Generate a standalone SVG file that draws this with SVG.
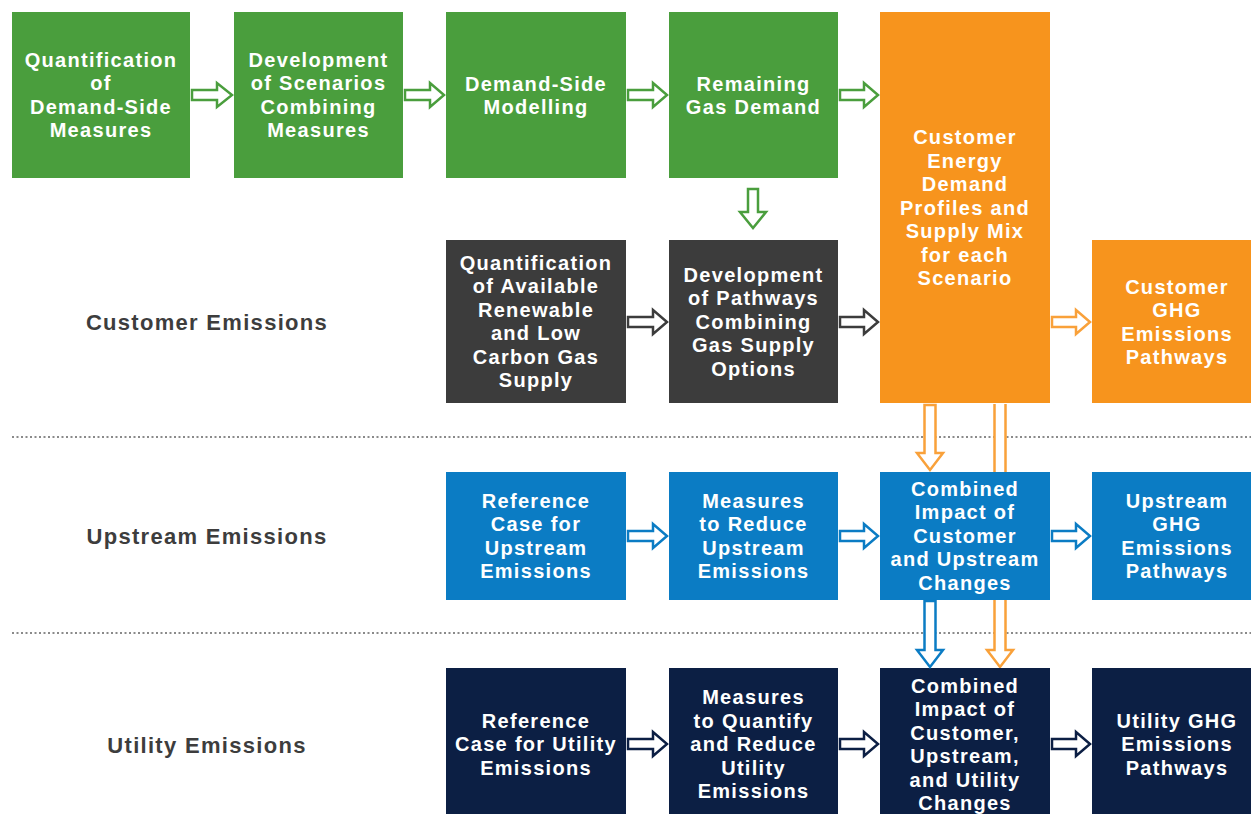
<svg xmlns="http://www.w3.org/2000/svg" width="1251" height="814" viewBox="0 0 1251 814">
<style>
.t{font-family:"Liberation Sans",Arial,sans-serif;font-weight:bold;font-size:20px;letter-spacing:1.3px;fill:#fff;text-anchor:middle}
.side{font-family:"Liberation Sans",Arial,sans-serif;font-weight:bold;font-size:22px;letter-spacing:1.3px;fill:#3d3d3d;text-anchor:middle}
.g{fill:#4a9e3d}.o{fill:#f7941d}.d{fill:#3c3c3c}.b{fill:#0b7cc4}.n{fill:#0c1f44}
.ag{fill:#fff;stroke:#4a9e3d;stroke-width:2.5}
.ao{fill:#fff;stroke:#f9a13a;stroke-width:2.5}
.ad{fill:#fff;stroke:#3c3c3c;stroke-width:2.5}
.ab{fill:#fff;stroke:#0b7cc4;stroke-width:2.5}
.an{fill:#fff;stroke:#0c1f44;stroke-width:2.5}
.dot{stroke:#8a8a8a;stroke-width:2;stroke-dasharray:2 2.5}
</style>
<rect width="1251" height="814" fill="#fff"/>
<g id="separators">
<line class="dot" x1="12" y1="437" x2="1251" y2="437"/>
<line class="dot" x1="12" y1="633" x2="1251" y2="633"/>
</g>
<g id="labels">
<text class="side" x="207" y="330">Customer Emissions</text>
<text class="side" x="207" y="544">Upstream Emissions</text>
<text class="side" x="207" y="753">Utility Emissions</text>
</g>
<g id="connectors-back">
<path class="ao" d="M994.5,404 V650 H987 L1000,667 L1013,650 H1005.5 V404"/>
</g>
<g id="n1"><rect class="g" x="12" y="12" width="178" height="166"/>
<text class="t" x="101"><tspan x="101" y="67">Quantification</tspan><tspan x="101" y="90">of</tspan><tspan x="101" y="114">Demand-Side</tspan><tspan x="101" y="137">Measures</tspan></text></g>
<g id="n2"><rect class="g" x="234" y="12" width="169" height="166"/>
<text class="t"><tspan x="318.5" y="67">Development</tspan><tspan x="318.5" y="90">of Scenarios</tspan><tspan x="318.5" y="114">Combining</tspan><tspan x="318.5" y="137">Measures</tspan></text></g>
<g id="n3"><rect class="g" x="446" y="12" width="180" height="166"/>
<text class="t"><tspan x="536" y="91">Demand-Side</tspan><tspan x="536" y="114">Modelling</tspan></text></g>
<g id="n4"><rect class="g" x="669" y="12" width="169" height="166"/>
<text class="t"><tspan x="753.5" y="91">Remaining</tspan><tspan x="753.5" y="114">Gas Demand</tspan></text></g>
<g id="n5"><rect class="o" x="880" y="12" width="170" height="391"/>
<text class="t"><tspan x="965" y="144">Customer</tspan><tspan x="965" y="168">Energy</tspan><tspan x="965" y="191">Demand</tspan><tspan x="965" y="215">Profiles and</tspan><tspan x="965" y="238">Supply Mix</tspan><tspan x="965" y="262">for each</tspan><tspan x="965" y="285">Scenario</tspan></text></g>
<g id="n6"><rect class="d" x="446" y="240" width="180" height="163"/>
<text class="t"><tspan x="536" y="270">Quantification</tspan><tspan x="536" y="293">of Available</tspan><tspan x="536" y="317">Renewable</tspan><tspan x="536" y="340">and Low</tspan><tspan x="536" y="364">Carbon Gas</tspan><tspan x="536" y="387">Supply</tspan></text></g>
<g id="n7"><rect class="d" x="669" y="240" width="169" height="163"/>
<text class="t"><tspan x="753.5" y="282">Development</tspan><tspan x="753.5" y="305">of Pathways</tspan><tspan x="753.5" y="329">Combining</tspan><tspan x="753.5" y="352">Gas Supply</tspan><tspan x="753.5" y="376">Options</tspan></text></g>
<g id="n8"><rect class="o" x="1092" y="240" width="159" height="163"/>
<text class="t"><tspan x="1177" y="294">Customer</tspan><tspan x="1177" y="317">GHG</tspan><tspan x="1177" y="341">Emissions</tspan><tspan x="1177" y="364">Pathways</tspan></text></g>
<g id="n9"><rect class="b" x="446" y="472" width="180" height="128"/>
<text class="t"><tspan x="536" y="508">Reference</tspan><tspan x="536" y="531">Case for</tspan><tspan x="536" y="555">Upstream</tspan><tspan x="536" y="578">Emissions</tspan></text></g>
<g id="n10"><rect class="b" x="669" y="472" width="169" height="128"/>
<text class="t"><tspan x="753.5" y="508">Measures</tspan><tspan x="753.5" y="531">to Reduce</tspan><tspan x="753.5" y="555">Upstream</tspan><tspan x="753.5" y="578">Emissions</tspan></text></g>
<g id="n11"><rect class="b" x="880" y="472" width="170" height="128"/>
<text class="t"><tspan x="965" y="496">Combined</tspan><tspan x="965" y="519">Impact of</tspan><tspan x="965" y="543">Customer</tspan><tspan x="965" y="566">and Upstream</tspan><tspan x="965" y="590">Changes</tspan></text></g>
<g id="n12"><rect class="b" x="1092" y="472" width="159" height="128"/>
<text class="t"><tspan x="1177" y="508">Upstream</tspan><tspan x="1177" y="531">GHG</tspan><tspan x="1177" y="555">Emissions</tspan><tspan x="1177" y="578">Pathways</tspan></text></g>
<g id="n13"><rect class="n" x="446" y="668" width="180" height="146"/>
<text class="t"><tspan x="536" y="728">Reference</tspan><tspan x="536" y="751">Case for Utility</tspan><tspan x="536" y="775">Emissions</tspan></text></g>
<g id="n14"><rect class="n" x="669" y="668" width="169" height="146"/>
<text class="t"><tspan x="753.5" y="704">Measures</tspan><tspan x="753.5" y="728">to Quantify</tspan><tspan x="753.5" y="751">and Reduce</tspan><tspan x="753.5" y="775">Utility</tspan><tspan x="753.5" y="798">Emissions</tspan></text></g>
<g id="n15"><rect class="n" x="880" y="668" width="170" height="146"/>
<text class="t"><tspan x="965" y="693">Combined</tspan><tspan x="965" y="716">Impact of</tspan><tspan x="965" y="740">Customer,</tspan><tspan x="965" y="763">Upstream,</tspan><tspan x="965" y="787">and Utility</tspan><tspan x="965" y="810">Changes</tspan></text></g>
<g id="n16"><rect class="n" x="1092" y="668" width="159" height="146"/>
<text class="t"><tspan x="1177" y="728">Utility GHG</tspan><tspan x="1177" y="751">Emissions</tspan><tspan x="1177" y="775">Pathways</tspan></text></g>
<g id="connectors">
<path class="ag" d="M192,90 H217 V83 L232,95 L217,107 V100 H192 Z"/>
<path class="ag" d="M405,90 H430 V83 L444,95 L430,107 V100 H405 Z"/>
<path class="ag" d="M628,90 H653 V83 L667,95 L653,107 V100 H628 Z"/>
<path class="ag" d="M840,90 H864 V83 L878,95 L864,107 V100 H840 Z"/>
<path class="ag" d="M748,189 H758 V212 H766 L753,228 L740,212 H748 Z"/>
<path class="ad" d="M628,317 H653 V310 L667,322 L653,334 V327 H628 Z"/>
<path class="ad" d="M840,317 H864 V310 L878,322 L864,334 V327 H840 Z"/>
<path class="ao" d="M1052,317 H1076 V310 L1090,322 L1076,334 V327 H1052 Z"/>
<path class="ao" d="M924.5,405 H935.5 V453 H943 L930,470 L917,453 H924.5 Z"/>
<path class="ab" d="M628,531 H653 V524 L667,536 L653,548 V541 H628 Z"/>
<path class="ab" d="M840,531 H864 V524 L878,536 L864,548 V541 H840 Z"/>
<path class="ab" d="M1052,531 H1076 V524 L1090,536 L1076,548 V541 H1052 Z"/>
<path class="ab" d="M924.5,601 H935.5 V650 H943 L930,667 L917,650 H924.5 Z"/>
<path class="an" d="M628,739 H653 V732 L667,744 L653,756 V749 H628 Z"/>
<path class="an" d="M840,739 H864 V732 L878,744 L864,756 V749 H840 Z"/>
<path class="an" d="M1052,739 H1076 V732 L1090,744 L1076,756 V749 H1052 Z"/>
</g>
</svg>
